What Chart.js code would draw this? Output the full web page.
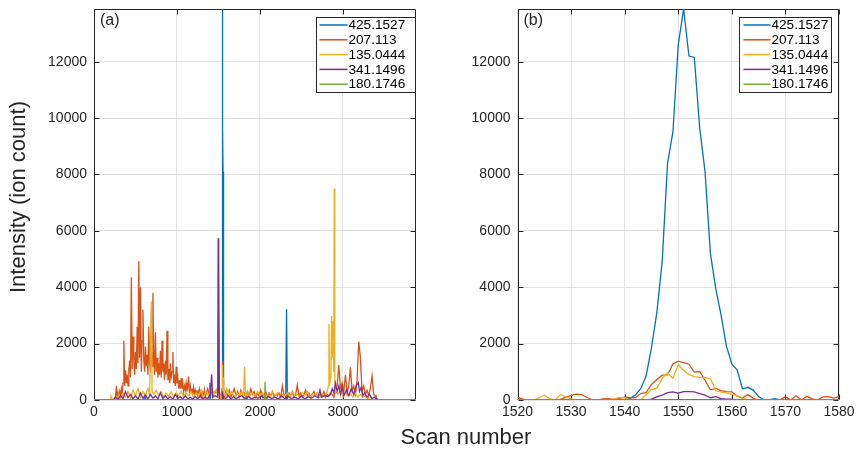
<!DOCTYPE html>
<html>
<head>
<meta charset="utf-8">
<script src="https://cdn.jsdelivr.net/npm/chart.js@4.4.1/dist/chart.umd.min.js"></script>
<style>
  html, body { margin: 0; padding: 0; background: #fff; }
  #wrap { position: relative; width: 859px; height: 450px; overflow: hidden;
          font-family: "Liberation Sans", Arial, Helvetica, sans-serif; color: #262626; }
  #wrap canvas { position: absolute; left: 0; top: 0; }
  #ylab { position: absolute; left: 18px; top: 197px; transform: translate(-50%, -50%) rotate(-90deg);
          font-size: 22px; white-space: nowrap; }
  #xlab { position: absolute; left: 466px; top: 437px; transform: translate(-50%, -50%);
          font-size: 22px; white-space: nowrap; }
</style>
</head>
<body>
<div id="wrap">
  <canvas id="full" width="859" height="450"></canvas>
  <canvas id="zoom" width="859" height="450"></canvas>
  <div id="ylab">Intensity (ion count)</div>
  <div id="xlab">Scan number</div>
</div>
<script>
// ---- series identity ----
const seriesLabels = ['425.1527', '207.113', '135.0444', '341.1496', '180.1746'];
const seriesColors = ['#0072BD', '#D95319', '#EDB120', '#7E2F8E', '#77AC30'];

// ---- axis ranges / ticks ----
const fullScanMax = 3880;
const intensityMax = 13870;
const zoomStart = 1520;
const zoomEnd = 1580;
const intensityTicks = [0, 2000, 4000, 6000, 8000, 10000, 12000];
const fullScanTicks = [0, 1000, 2000, 3000];
const zoomScanTicks = [1520, 1530, 1540, 1550, 1560, 1570, 1580];

// ---- per-scan intensities around the 425.1527 peak, scans 1520..1580 ----
const blueZoom = [
  0, 0, 0, 0, 0, 0, 0, 0, 0, 0,
  0, 0, 0, 0, 0, 0, 0, 0, 0, 0,
  0, 60, 180, 400, 850, 1850, 3100, 4900, 8400, 9500,
  12600, 13870, 12200, 12150, 9650, 8100, 5200, 3950, 3000, 1900,
  1280, 1060, 390, 450, 350, 120, 0, 0, 50, 0,
  0, 0, 0, 0, 0, 0, 0, 0, 0, 0,
  0
];
const orangeZoom = [
  100, 30, 0, 0, 0, 0, 0, 0, 20, 90,
  160, 210, 190, 90, 0, 0, 40, 50, 20, 60,
  100, 80, 80, 230, 260, 550, 730, 880, 890, 1280,
  1380, 1330, 1270, 990, 1010, 700, 360, 410, 330, 300,
  290, 140, 70, 190, 60, 0, 0, 0, 0, 0,
  120, 0, 150, 0, 130, 40, 0, 110, 120, 70,
  120
];
const yellowZoom = [
  0, 0, 0, 0, 80, 170, 40, 0, 190, 110,
  40, 0, 0, 0, 0, 0, 0, 0, 30, 90,
  80, 0, 0, 0, 180, 380, 420, 760, 960, 770,
  1250, 1050, 900, 830, 800, 790, 760, 330, 280, 250,
  200, 150, 60, 0, 0, 0, 0, 0, 0, 0,
  0, 0, 0, 0, 0, 0, 0, 0, 0, 0,
  0
];
const purpleZoom = [
  0, 0, 0, 0, 0, 0, 0, 0, 0, 0,
  0, 0, 0, 0, 0, 0, 0, 0, 0, 0,
  0, 0, 0, 0, 0, 30, 110, 170, 260, 290,
  240, 300, 300, 290, 230, 170, 80, 120, 50, 30,
  30, 0, 0, 0, 0, 0, 0, 0, 0, 0,
  0, 0, 0, 0, 0, 0, 0, 0, 0, 0,
  0
];
const greenZoom = [
  0, 0, 0, 0, 0, 0, 0, 0, 0, 0,
  0, 0, 0, 0, 0, 0, 0, 0, 0, 0,
  0, 0, 0, 0, 0, 0, 0, 0, 0, 0,
  0, 0, 0, 0, 0, 0, 0, 0, 0, 0,
  0, 0, 0, 0, 0, 0, 0, 0, 0, 0,
  0, 0, 0, 0, 0, 0, 0, 0, 0, 0,
  0
];

// ---- whole-run survey outside the zoom window ----
const blueScans  = [0, 600, 614, 628, 1390, 1397, 1404, 1830, 1839, 1848, 2310, 2320, 2330, 3400, 3406, 3412, fullScanMax];
const blueCounts = [0, 0, 180, 0, 0, 600, 0, 0, 180, 0, 0, 3220, 0, 0, 60, 0, 0];

// 207.113: scans 250..1340 every 10
const orangeEarlyStart = 250, orangeEarlyStep = 10;
const orangeEarly = [
  0, 150, 500, 100, 250, 80, 300, 150, 400, 200,
  600, 2100, 500, 1050, 600, 900, 500, 1100, 1400, 800,
  4350, 1100, 2250, 1500, 900, 1700, 1100, 2600, 1300, 4930,
  1500, 4000, 1000, 2100, 3200, 1400, 1000, 1900, 1200, 1600,
  900, 2600, 1300, 1000, 1800, 1200, 3800, 1400, 900, 2400,
  1000, 1500, 800, 1300, 900, 1750, 800, 2100, 1000, 1300,
  700, 1400, 900, 2460, 700, 1100, 600, 1300, 800, 1000,
  1700, 600, 900, 500, 1180, 600, 800, 400, 700, 400,
  770, 400, 600, 300, 500, 350, 600, 300, 450, 830,
  300, 500, 250, 400, 250, 450, 200, 350, 200, 350,
  150, 300, 400, 150, 300, 150, 250, 100, 350, 80
];
// 207.113: scans 1350..1510 every 20
const orangeMidStart = 1350, orangeMidStep = 20;
const orangeMid = [200, 400, 150, 350, 100, 300, 250, 450, 150];
// 207.113: scans 1590..3450 every 20
const orangeLateStart = 1590, orangeLateStep = 20;
const orangeLate = [
  300, 150, 350, 100, 250, 400, 150, 300,
  100, 350, 200, 250, 100, 300, 150, 400, 200, 300,
  100, 250, 150, 350, 100, 200, 300, 100, 250, 150,
  300, 100, 200, 150, 250, 100, 500, 150, 200, 100,
  250, 150, 300, 100, 200, 530, 150, 250, 100, 200,
  350, 150, 250, 100, 200, 300, 150, 250, 100, 200,
  150, 300, 100, 200, 150, 250, 200, 100, 350, 500,
  1240, 400, 600, 300, 890, 250, 500, 1160, 300, 500,
  200, 700, 2070, 1500, 300, 500, 200, 350, 150, 400,
  850, 200, 150, 50, 0, 0
];
const orangeScans  = [0, 240, fullScanMax];
const orangeCounts = [0, 0, 0];

const yellowScans = [
  0, 200, 205, 215, 280, 300, 320, 350, 380, 410, 440, 470, 500, 530, 560, 590, 620, 650, 670, 690,
  700, 720, 750, 780, 810, 840, 870, 900, 930, 960, 990, 1020, 1050, 1080, 1110, 1140, 1170, 1200, 1230, 1260,
  1290, 1320, 1350, 1380, 1410, 1440, 1470, 1500, 1600, 1630, 1660, 1690, 1720, 1750, 1780, 1800, 1815, 1825, 1850, 1880,
  1910, 1940, 1970, 2000, 2030, 2060, 2090, 2120, 2150, 2180, 2210, 2240, 2270, 2300, 2330, 2360, 2390, 2420, 2450, 2480,
  2510, 2540, 2570, 2600, 2630, 2660, 2690, 2720, 2750, 2780, 2810, 2825, 2831, 2840, 2855, 2863, 2872, 2880, 2888, 2895,
  2902, 2910, 2940, 2970, 3000, 3030, 3060, 3090, 3120, 3150, 3180, 3210, 3240, 3270, 3300, 3330, 3360, fullScanMax
];
const yellowCounts = [
  0, 0, 120, 0, 0, 200, 50, 250, 100, 300, 80, 350, 150, 400, 100, 300, 150, 400, 200, 3490,
  300, 200, 350, 150, 300, 100, 250, 120, 300, 100, 250, 150, 300, 100, 250, 150, 300, 100, 250, 150,
  350, 100, 300, 150, 400, 200, 350, 150, 400, 150, 300, 100, 250, 150, 300, 100, 1180, 100, 300, 150,
  250, 100, 300, 150, 250, 100, 200, 100, 300, 150, 250, 100, 200, 150, 250, 100, 300, 150, 200, 100,
  250, 150, 300, 100, 200, 150, 250, 100, 200, 150, 300, 500, 2700, 600, 800, 2980, 1500, 2800, 1000, 7500,
  600, 300, 200, 350, 100, 250, 150, 200, 100, 250, 100, 200, 100, 150, 50, 100, 0, 0
];

const purpleScans = [
  0, 230, 260, 290, 320, 350, 380, 410, 440, 470, 500, 530, 560, 590, 620, 650, 680, 710, 740, 770,
  800, 830, 860, 890, 920, 950, 980, 1010, 1040, 1070, 1100, 1130, 1160, 1190, 1220, 1250, 1280, 1310, 1340, 1370,
  1400, 1418, 1430, 1460, 1490, 1496, 1500, 1506, 1512, 1590, 1620, 1650, 1680, 1710, 1740, 1780, 1820, 1860, 1900, 1940,
  1980, 2020, 2060, 2100, 2140, 2180, 2220, 2260, 2300, 2340, 2380, 2420, 2460, 2500, 2540, 2580, 2620, 2660, 2700, 2723,
  2740, 2780, 2820, 2850, 2870, 2890, 2910, 2930, 2950, 2970, 2990, 3010, 3040, 3070, 3100, 3130, 3160, 3185, 3200, 3220,
  3240, 3260, 3290, 3320, 3350, 3380, 3410, fullScanMax
];
const purpleCounts = [
  0, 0, 100, 20, 150, 50, 300, 80, 200, 50, 150, 30, 250, 60, 180, 40, 200, 60, 150, 40,
  250, 60, 150, 40, 120, 30, 200, 50, 120, 30, 150, 40, 100, 30, 120, 40, 150, 50, 100, 40,
  200, 910, 100, 150, 100, 5740, 300, 4600, 0, 50, 150, 30, 120, 40, 100, 150, 50, 120, 40, 100,
  60, 150, 40, 120, 50, 100, 30, 150, 40, 120, 50, 100, 40, 150, 30, 120, 60, 150, 80, 355,
  100, 150, 120, 200, 400, 250, 600, 300, 500, 200, 450, 150, 350, 150, 400, 200, 500, 615, 300, 450,
  150, 250, 100, 200, 50, 100, 0, 0
];

const greenScans  = [0, 2050, 2060, 2070, fullScanMax];
const greenCounts = [0, 0, 650, 0, 0];

// ---- assemble point lists ----
function onGrid(start, step, vals) {
  return [vals.map((_, i) => start + i * step), vals];
}
function fullSeries(parts, zoomVals) {
  const pts = [];
  parts.forEach(([scans, counts]) => {
    scans.forEach((s, i) => {
      if (s < zoomStart || s > zoomEnd) pts.push({ x: s, y: counts[i] });
    });
  });
  zoomVals.forEach((v, i) => pts.push({ x: zoomStart + i, y: v }));
  pts.sort((a, b) => a.x - b.x);
  return pts;
}
function zoomSeries(zoomVals) {
  return zoomVals.map((v, i) => ({ x: zoomStart + i, y: v }));
}

const fullPoints = [
  fullSeries([[blueScans, blueCounts]], blueZoom),
  fullSeries([[orangeScans, orangeCounts],
              onGrid(orangeEarlyStart, orangeEarlyStep, orangeEarly),
              onGrid(orangeMidStart, orangeMidStep, orangeMid),
              onGrid(orangeLateStart, orangeLateStep, orangeLate)], orangeZoom),
  fullSeries([[yellowScans, yellowCounts]], yellowZoom),
  fullSeries([[purpleScans, purpleCounts]], purpleZoom),
  fullSeries([[greenScans, greenCounts]], greenZoom)
];
const zoomPoints = [blueZoom, orangeZoom, yellowZoom, purpleZoom, greenZoom].map(zoomSeries);

function makeDatasets(pointSets, width) {
  return pointSets.map((pts, i) => ({
    label: seriesLabels[i],
    data: pts,
    borderColor: seriesColors[i],
    backgroundColor: seriesColors[i],
    borderWidth: width,
    pointRadius: 0,
    tension: 0,
    fill: false,
    order: pointSets.length - i   // later series painted on top
  }));
}

// ---- frame, inward ticks, legend and panel tag ----
const AXIS_COLOR = '#262626';
const FONT = '"Liberation Sans", Arial, Helvetica, sans-serif';

const framePlugin = {
  id: 'frame',
  beforeDatasetsDraw(chart, args, opts) {
    const { ctx, chartArea: a, scales: { x, y } } = chart;
    const L = Math.round(a.left) + 0.5, R = Math.round(a.right) - 0.5;
    const T = Math.round(a.top) + 0.5, B = Math.round(a.bottom) - 0.5;
    ctx.save();
    ctx.strokeStyle = AXIS_COLOR;
    ctx.lineWidth = 1;
    ctx.beginPath();
    ctx.rect(L, T, R - L, B - T);
    const len = 5;
    x.ticks.forEach(t => {
      const px = Math.round(x.getPixelForValue(t.value)) + 0.5;
      ctx.moveTo(px, B); ctx.lineTo(px, B - len);
      ctx.moveTo(px, T); ctx.lineTo(px, T + len);
    });
    y.ticks.forEach(t => {
      const py = Math.round(y.getPixelForValue(t.value)) + 0.5;
      ctx.moveTo(L, py); ctx.lineTo(L + len, py);
      ctx.moveTo(R, py); ctx.lineTo(R - len, py);
    });
    ctx.stroke();
    ctx.restore();
  },
  afterDatasetsDraw(chart, args, opts) {
    const { ctx, chartArea: a } = chart;
    ctx.save();
    // panel tag
    ctx.fillStyle = AXIS_COLOR;
    ctx.font = '16px ' + FONT;
    ctx.textBaseline = 'top';
    ctx.textAlign = 'left';
    ctx.fillText(opts.tag, a.left + 6, a.top + 4);
    // legend box
    const lg = opts.legend;
    const bx = Math.round(a.right - lg.inset - lg.width) + 0.5;
    const by = Math.round(a.top + 8) + 0.5;
    const bh = 75;
    ctx.fillStyle = '#ffffff';
    ctx.fillRect(bx, by, lg.width, bh);
    ctx.strokeStyle = AXIS_COLOR;
    ctx.lineWidth = 1;
    ctx.strokeRect(bx, by, lg.width, bh);
    ctx.font = '13.6px ' + FONT;
    ctx.textBaseline = 'middle';
    chart.data.datasets.forEach((ds, i) => {
      const yy = by + 7.5 + i * 14.8;
      ctx.strokeStyle = ds.borderColor;
      ctx.lineWidth = 1.5;
      ctx.beginPath();
      ctx.moveTo(bx + lg.lineFrom, yy);
      ctx.lineTo(bx + 31, yy);
      ctx.stroke();
      ctx.fillStyle = '#000';
      ctx.fillText(ds.label, bx + 32, yy + 0.5);
    });
    ctx.restore();
  }
};

function makeChart(canvasId, datasets, xMin, xMax, xTicks, plotLeft, plotRight, tag, legend) {
  return new Chart(document.getElementById(canvasId), {
    type: 'line',
    data: { datasets },
    plugins: [framePlugin],
    options: {
      responsive: false,
      animation: false,
      events: [],
      layout: { padding: { left: 0, top: 9, right: 859 - plotRight, bottom: 20 } },
      plugins: {
        legend: { display: false },
        tooltip: { enabled: false },
        frame: { tag, legend }
      },
      scales: {
        x: {
          type: 'linear',
          min: xMin, max: xMax,
          grid: { color: '#e3e3e3', lineWidth: 1, drawTicks: false },
          border: { display: false },
          afterBuildTicks: s => { s.ticks = xTicks.map(v => ({ value: v })); },
          ticks: {
            autoSkip: false, maxRotation: 0,
            padding: 4, color: AXIS_COLOR,
            font: { family: FONT, size: 14 },
            callback: v => String(v)
          },
          afterFit: s => { s.height = 30; s.paddingLeft = 0; s.paddingRight = 0; }
        },
        y: {
          type: 'linear',
          min: 0, max: intensityMax,
          grid: { color: '#e3e3e3', lineWidth: 1, drawTicks: false },
          border: { display: false },
          afterBuildTicks: s => { s.ticks = intensityTicks.map(v => ({ value: v })); },
          ticks: {
            autoSkip: false,
            padding: 7, color: AXIS_COLOR,
            font: { family: FONT, size: 14 },
            callback: v => String(v)
          },
          afterFit: s => { s.width = plotLeft; s.paddingTop = 0; s.paddingBottom = 0; }
        }
      }
    }
  });
}

makeChart('full', makeDatasets(fullPoints, 1.3), 0, fullScanMax, fullScanTicks, 94, 416, '(a)',
          { inset: 1, width: 99, lineFrom: 3 });
makeChart('zoom', makeDatasets(zoomPoints, 1.3), zoomStart, zoomEnd, zoomScanTicks, 517.5, 839, '(b)',
          { inset: 8, width: 92, lineFrom: 4 });
</script>
</body>
</html>
